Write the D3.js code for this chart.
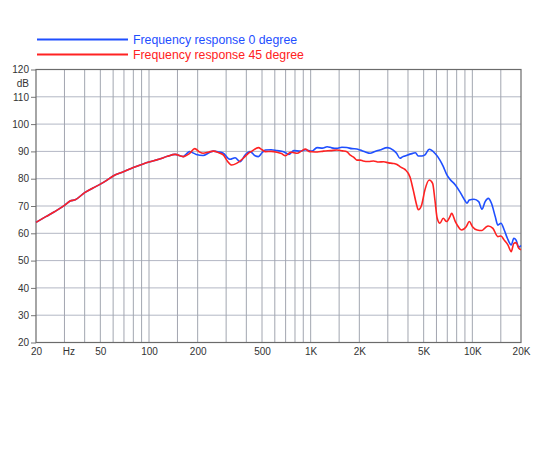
<!DOCTYPE html>
<html>
<head>
<meta charset="utf-8">
<script src="https://cdn.jsdelivr.net/npm/d3@7"></script>
<style>
  body { margin: 0; background: #fff; }
  svg { display: block; font-family: "Liberation Sans", Arial, sans-serif; }
  .tick-label { font-size: 10px; fill: #333; }
  .legend-text { font-size: 12.3px; }
</style>
</head>
<body>
<div id="chart"></div>
<script>
// Chart size, plot area matches the reference frame
const margin = { top: 69.5, right: 29, bottom: 107.5, left: 36 };
const width = 550 - margin.left - margin.right;
const height = 450 - margin.top - margin.bottom;

// Vertical grid frequencies and labelled ticks
const gridFreqs = [30, 40, 50, 60, 70, 80, 90, 100, 150, 200, 300, 400, 500, 600, 700, 800, 900,
  1000, 1500, 2000, 3000, 4000, 5000, 6000, 7000, 8000, 9000, 10000, 15000];
const xTickFreqs = [20, 30, 50, 100, 200, 500, 1000, 2000, 5000, 10000, 20000];
const xTickLabels = ["20", "Hz", "50", "100", "200", "500", "1K", "2K", "5K", "10K", "20K"];
const yTicks = [20, 30, 40, 50, 60, 70, 80, 90, 100, 110, 120];

// Frequency response 0 degree (blue)
const freq0 = [20, 23, 26, 30, 32.5, 35, 40, 45, 50, 55, 60, 70, 80, 92, 100, 115, 130, 145, 163, 170,
  178, 196, 216, 235, 250, 270, 288, 317, 341, 366, 393, 422, 453, 475, 500, 525, 570, 618, 680, 733,
  787, 864, 927, 1018, 1095, 1180, 1265, 1350, 1452, 1560, 1674, 1800, 1930, 2024, 2180, 2330, 2500,
  2680, 2980, 3240, 3400, 3566, 3700, 3828, 4111, 4300, 4450, 4628, 4858, 5090, 5412, 5870, 6302,
  6606, 6934, 7268, 7850, 8380, 8960, 9260, 9580, 10240, 10950, 11460, 12000, 12540, 13130, 13860,
  14380, 15040, 15750, 16470, 17400, 18050, 18650, 19370, 20000];
const db0 = [64.0, 66.1, 67.9, 70.2, 71.8, 72.3, 74.9, 76.6, 78.0, 79.5, 81.0, 82.6, 84.1, 85.4, 86.1,
  87.1, 88.2, 88.9, 88.1, 89.0, 89.9, 88.9, 88.5, 89.5, 90.1, 89.8, 89.3, 87.1, 87.7, 86.2, 88.7, 89.9,
  88.4, 88.1, 89.5, 90.5, 90.6, 90.3, 89.9, 88.9, 90.3, 90.1, 90.6, 90.1, 91.4, 91.2, 91.7, 91.3, 91.1,
  91.5, 91.4, 91.0, 90.9, 90.5, 89.8, 89.3, 90.0, 90.5, 91.4, 90.5, 89.3, 87.5, 88.0, 88.3, 89.0, 89.3,
  89.5, 88.3, 88.3, 88.7, 90.8, 89.3, 86.8, 84.5, 81.6, 79.8, 77.7, 75.2, 72.2, 71.0, 72.2, 72.5, 71.6,
  68.8, 71.6, 72.8, 71.0, 66.1, 63.0, 63.7, 61.2, 58.2, 55.7, 58.2, 57.5, 54.9, 55.5];

// Frequency response 45 degree (red)
const freq45 = [20, 23, 26, 30, 32.5, 35, 40, 45, 50, 55, 60, 70, 80, 92, 100, 115, 130, 145, 163, 178,
  192, 205, 216, 235, 250, 270, 288, 305, 325, 348, 383, 410, 433, 475, 500, 525, 570, 618, 660, 698,
  751, 790, 824, 880, 927, 975, 1018, 1100, 1200, 1330, 1452, 1570, 1674, 1760, 1850, 1930, 2024, 2110,
  2280, 2450, 2630, 2830, 3030, 3240, 3420, 3566, 3828, 4111, 4308, 4524, 4628, 4858, 5090, 5412, 5680,
  5870, 6064, 6302, 6606, 6934, 7268, 7450, 7850, 8190, 8570, 9160, 9580, 10020, 10710, 11460, 12000,
  12540, 13410, 14380, 15040, 15750, 16620, 17400, 18050, 18650, 19370, 20000];
const db45 = [64.0, 66.1, 67.9, 70.2, 71.8, 72.3, 74.9, 76.6, 78.0, 79.5, 81.0, 82.6, 84.1, 85.4, 86.1,
  87.1, 88.2, 88.9, 88.1, 89.2, 91.0, 89.8, 89.3, 89.8, 90.1, 89.5, 88.7, 86.5, 85.0, 85.6, 87.5, 89.2,
  90.1, 91.4, 90.6, 89.9, 90.0, 89.7, 89.2, 88.4, 89.7, 89.5, 89.3, 90.2, 90.9, 90.0, 89.9, 89.8, 90.1,
  90.3, 90.5, 90.2, 89.9, 88.6, 87.8, 86.8, 86.8, 86.5, 86.3, 86.5, 86.1, 86.2, 85.8, 85.6, 85.2, 84.4,
  83.4, 80.7, 75.9, 70.4, 68.6, 70.4, 75.9, 79.5, 78.3, 72.2, 65.5, 63.7, 65.5, 64.3, 66.1, 67.3, 64.3,
  62.4, 61.2, 62.4, 64.3, 62.4, 61.2, 61.0, 62.0, 62.7, 61.8, 58.8, 59.0, 57.5, 55.7, 53.3, 56.3, 56.6,
  54.5, 54.0];

const series = [
  { label: "Frequency response 0 degree", color: "#1f4fff", freqs: freq0, values: db0 },
  { label: "Frequency response 45 degree", color: "#ff2222", freqs: freq45, values: db45 }
];

const svg = d3.select("#chart")
  .append("svg")
  .attr("width", 550)
  .attr("height", 450);

const g = svg.append("g")
  .attr("transform", `translate(${margin.left},${margin.top})`);

// Scales
const x = d3.scaleLog().domain([20, 20000]).range([0, width]);
const y = d3.scaleLinear().domain([20, 120]).range([height, 0]);

// Horizontal grid lines
g.selectAll("line.hgrid")
  .data(yTicks.slice(1, -1))
  .join("line")
  .attr("class", "hgrid")
  .attr("x1", 0)
  .attr("x2", width)
  .attr("y1", d => y(d))
  .attr("y2", d => y(d))
  .attr("stroke", "#b3b7c4")
  .attr("stroke-width", 1);

// Vertical grid lines
g.selectAll("line.vgrid")
  .data(gridFreqs)
  .join("line")
  .attr("class", "vgrid")
  .attr("x1", d => x(d))
  .attr("x2", d => x(d))
  .attr("y1", 0)
  .attr("y2", height)
  .attr("stroke", "#a2a6b0")
  .attr("stroke-width", 1);

// Y axis with short ticks
const yAxis = g.append("g")
  .call(d3.axisLeft(y).tickValues(yTicks).tickSize(5).tickPadding(2));
yAxis.select(".domain").remove();
yAxis.selectAll(".tick line").attr("stroke", "#777");
yAxis.selectAll(".tick text")
  .attr("class", "tick-label")
  .style("font-family", "Liberation Sans, Arial, sans-serif");

g.append("text")
  .attr("class", "tick-label")
  .attr("x", -7)
  .attr("y", (y(120) + y(110)) / 2)
  .attr("dy", "0.35em")
  .attr("text-anchor", "end")
  .text("dB");

// X axis labels
const xAxis = g.append("g")
  .attr("transform", `translate(0,${height})`)
  .call(d3.axisBottom(x).tickValues(xTickFreqs).tickSize(0).tickPadding(5)
    .tickFormat((d, i) => xTickLabels[i]));
xAxis.select(".domain").remove();
xAxis.selectAll(".tick text")
  .attr("class", "tick-label")
  .style("font-family", "Liberation Sans, Arial, sans-serif");
// "Hz" sits a little right of the 30 Hz line
xAxis.selectAll(".tick text").filter((d, i) => i === 1).attr("dx", "0.4em");

// Frame
g.append("rect")
  .attr("width", width)
  .attr("height", height)
  .attr("fill", "none")
  .attr("stroke", "#6b6b6b")
  .attr("stroke-width", 1.2);

// Response curves
const line = d3.line()
  .x(d => x(d[0]))
  .y(d => y(d[1]))
  .curve(d3.curveMonotoneX);

g.selectAll("path.curve")
  .data(series)
  .join("path")
  .attr("class", "curve")
  .attr("d", s => line(s.freqs.map((f, i) => [f, s.values[i]])))
  .attr("fill", "none")
  .attr("stroke", s => s.color)
  .attr("stroke-width", 1.6)
  .attr("stroke-linejoin", "round");

// Legend
const legend = svg.selectAll("g.legend")
  .data(series)
  .join("g")
  .attr("class", "legend")
  .attr("transform", (d, i) => `translate(37,${39.5 + i * 15})`);

legend.append("line")
  .attr("x1", 0)
  .attr("x2", 91)
  .attr("stroke", d => d.color)
  .attr("stroke-width", 1.8);

legend.append("text")
  .attr("class", "legend-text")
  .attr("x", 96)
  .attr("dy", "0.35em")
  .attr("fill", d => d.color)
  .text(d => d.label);
</script>
</body>
</html>
